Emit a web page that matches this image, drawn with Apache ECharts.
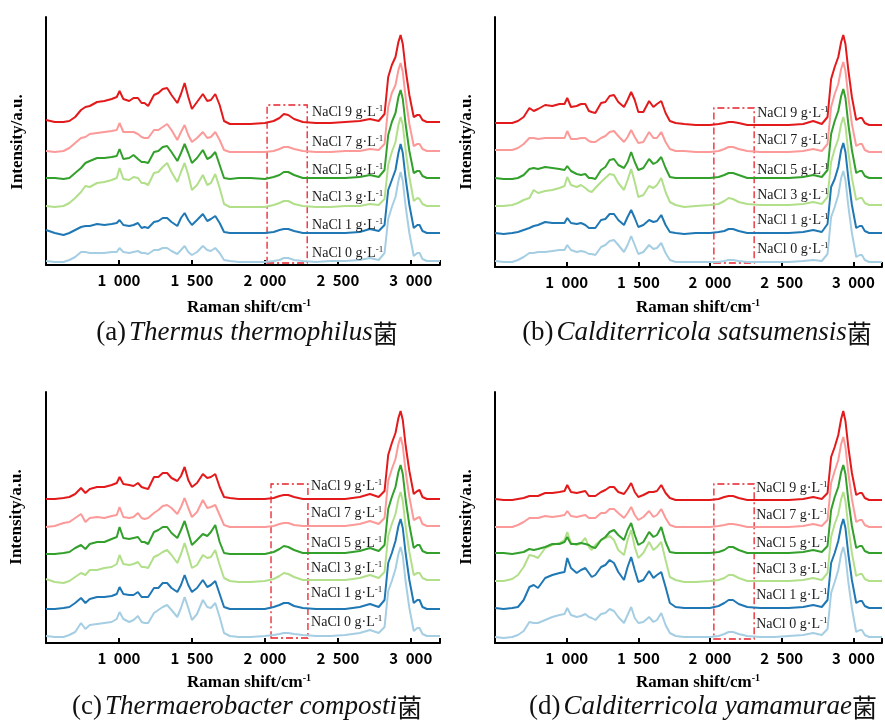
<!DOCTYPE html>
<html>
<head>
<meta charset="utf-8">
<script src="https://cdn.jsdelivr.net/npm/echarts@6/dist/echarts.min.js"></script>
<style>
html,body{margin:0;padding:0;background:#fff;}
#chart{width:885px;height:720px;}
</style>
</head>
<body>
<div id="chart"></div>
<script>
// Raman shift grid (cm-1)
const WAVENUMBER = [500,560,620,660,700,740,770,800,850,900,950,985,1004,1030,1070,1100,1130,1155,1175,1200,1240,1270,1300,1330,1360,1400,1425,1450,1475,1500,1535,1575,1605,1630,1660,1690,1720,1760,1820,
  1900,2000,2060,2100,2130,2160,2200,2260,2350,2450,2550,2650,2720,2780,2820,2845,2870,2895,2915,2930,2945,2965,2990,3020,3045,3060,3080,3110,3150,3200];
const X_TICKS = [1000,1500,2000,2500,3000];
const LEVELS = ['0','1','3','5','7','9'];

// (a) Thermus thermophilus (stacked intensity, a.u.)
const A_NaCl0 = [4,3,3,5,8,13,13,12,12,12,13,13,17,13,12,13,14,12,12,11,15,15,17,17,14,11,15,19,13,10,13,19,15,14,17,12,5,4,3, 3,3,4,5,7,7,5,4,3,4,4,5,7,5,12,46,58,68,84,93,84,58,32,9,12,12,6,4,4,4];
const A_NaCl1 = [35,32,30,32,35,38,39,39,41,40,41,42,45,40,39,40,42,37,38,37,43,44,47,47,43,39,47,52,45,40,45,51,44,46,49,42,33,32,32, 32,32,33,35,36,36,34,32,32,32,32,33,36,34,40,75,85,95,112,121,112,86,60,37,40,40,34,32,32,32];
const A_NaCl3 = [59,58,59,62,67,73,79,78,82,83,85,87,97,86,85,88,87,82,82,80,92,93,98,102,93,83,93,102,90,75,80,90,80,82,91,77,61,58,58, 58,58,60,62,64,64,61,59,58,58,59,59,61,60,66,100,113,123,140,148,140,114,88,64,67,66,61,59,59,59];
const A_NaCl5 = [87,87,86,87,92,97,102,104,107,107,108,109,116,106,107,110,106,103,103,102,113,114,118,119,113,104,112,121,112,102,107,115,106,108,113,100,87,86,87, 87,86,88,90,93,93,90,87,87,87,87,88,90,88,95,130,143,152,168,175,166,140,114,92,94,94,89,87,87,87];
const A_NaCl7 = [114,113,114,117,122,127,128,131,132,133,134,135,142,133,133,133,131,128,127,127,135,135,138,141,135,125,133,140,130,123,127,133,127,128,133,125,115,113,113, 113,113,114,116,118,118,116,114,113,113,114,114,116,115,121,158,172,180,195,202,193,167,141,119,121,121,116,114,114,114];
const A_NaCl9 = [145,143,143,144,148,155,158,159,163,164,166,168,174,166,164,167,167,162,162,159,170,172,176,177,170,162,171,182,168,156,163,171,164,165,171,160,144,141,141, 141,142,144,147,151,150,146,143,142,142,143,144,146,144,151,188,200,208,223,230,221,195,170,148,150,150,145,143,143,143];

// (b) Calditerricola satsumensis
const B_NaCl0 = [6,5,5,7,10,14,14,15,15,16,17,17,22,17,15,16,15,13,13,12,20,22,26,27,22,15,22,31,22,13,15,22,18,19,24,14,7,5,5, 5,5,5,6,7,7,6,5,5,5,5,6,7,6,13,50,60,72,89,96,87,61,34,10,12,12,7,5,5,5];
const B_NaCl1 = [34,33,34,35,37,39,41,42,45,44,44,44,49,44,43,44,42,39,39,39,47,48,53,53,47,42,50,57,49,40,42,47,45,46,52,42,35,34,33, 34,34,35,36,38,38,36,34,34,34,34,35,37,35,43,80,88,100,117,124,115,89,62,39,41,41,36,34,34,34];
const B_NaCl3 = [61,61,62,64,67,69,77,74,76,77,79,81,90,82,80,82,79,76,75,79,85,89,93,92,84,77,87,98,85,70,72,81,79,82,89,75,65,62,60, 61,62,63,66,69,68,65,63,62,62,62,63,65,63,70,105,118,128,143,150,141,115,89,67,69,69,64,62,62,62];
const B_NaCl5 = [89,88,88,89,92,98,99,98,100,99,98,97,101,96,93,92,93,89,89,88,97,100,107,108,102,99,105,115,105,97,99,108,103,105,110,99,90,89,89, 89,89,90,92,94,94,92,89,89,89,89,90,92,90,97,133,146,156,171,178,169,143,117,94,96,96,91,89,89,89];
const B_NaCl7 = [117,117,117,119,123,129,129,128,129,129,129,129,136,128,128,129,129,126,125,125,129,131,135,136,131,125,130,137,130,124,125,135,129,129,135,125,118,116,116, 115,115,116,118,120,120,118,116,115,115,115,116,118,116,123,160,173,183,198,205,196,170,143,121,123,123,117,115,115,115];
const B_NaCl9 = [144,144,144,146,150,159,156,158,162,161,163,163,169,160,161,163,163,156,155,154,164,165,171,172,165,160,167,175,167,155,155,166,160,163,166,154,146,144,143, 142,142,143,144,145,145,144,142,142,142,142,143,146,143,150,188,200,210,225,232,223,197,170,147,149,149,144,142,142,142];

// (c) Thermaerobacter composti
const C_NaCl0 = [7,6,6,8,11,20,14,18,19,20,21,24,31,24,21,23,27,21,20,20,30,33,36,38,33,26,35,46,35,23,29,43,36,35,40,26,10,7,6, 6,7,8,9,10,10,9,8,7,7,8,10,13,10,16,52,62,74,89,96,87,61,35,12,15,15,9,7,7,7];
const C_NaCl1 = [34,34,35,36,40,45,40,44,46,46,47,49,56,49,48,48,51,46,46,46,55,55,60,60,55,51,58,68,58,51,55,63,56,58,62,49,36,34,34, 34,34,36,38,40,40,37,35,34,34,34,36,39,36,43,80,90,102,117,124,115,89,63,40,43,43,36,34,34,34];
const C_NaCl3 = [64,61,60,62,66,70,68,73,73,75,76,79,88,79,78,79,81,76,76,75,86,88,91,93,88,80,89,100,88,75,78,88,85,86,93,78,65,62,61, 61,62,64,67,70,69,66,63,63,63,63,65,68,65,71,107,119,129,144,151,142,116,91,68,70,70,65,63,63,63];
const C_NaCl5 = [89,89,90,91,95,98,94,99,101,101,104,106,116,105,104,105,106,101,101,99,111,113,116,116,110,105,113,122,110,98,103,109,107,111,118,101,90,89,89, 89,89,91,94,97,96,93,90,90,90,90,92,95,92,98,134,146,156,171,178,169,143,118,95,98,98,92,90,90,90];
const C_NaCl7 = [116,117,120,121,125,129,121,125,126,125,127,128,136,126,125,126,130,125,124,125,130,133,137,138,135,129,136,145,135,126,131,143,135,136,138,128,118,116,116, 116,116,117,119,120,120,118,117,117,117,117,119,122,119,125,162,174,184,199,206,197,171,146,123,125,126,119,117,117,117];
const C_NaCl9 = [144,144,145,146,149,155,150,154,156,156,158,160,166,159,158,157,160,156,155,154,166,166,170,170,165,162,167,176,163,156,160,169,165,166,169,156,146,145,144, 144,144,145,147,148,148,146,144,144,144,144,146,149,146,152,188,200,210,225,232,223,197,172,149,152,153,146,144,144,144];

// (d) Calditerricola yamamurae
const D_NaCl0 = [6,5,6,8,12,21,20,20,23,26,28,29,35,28,26,27,29,26,25,23,29,30,34,32,26,20,28,36,25,20,21,26,21,23,30,18,10,7,6, 6,6,7,9,11,11,9,7,6,6,7,8,10,8,14,50,61,73,89,96,87,61,35,11,13,13,8,6,6,6];
const D_NaCl1 = [35,34,35,36,43,56,58,55,65,68,70,71,85,75,70,73,75,70,66,68,76,78,83,80,71,63,76,86,73,61,63,72,65,68,71,56,40,36,35, 35,35,37,40,43,43,39,36,35,35,35,36,38,36,43,80,90,102,117,124,115,89,63,40,42,42,37,35,35,35];
const D_NaCl3 = [62,62,64,68,76,88,87,85,95,98,100,103,111,100,98,100,105,96,93,98,103,105,107,103,93,88,103,113,96,85,90,101,93,96,101,83,66,63,61, 61,62,63,65,68,68,65,62,62,62,62,63,65,63,70,106,119,129,144,151,142,116,90,67,69,69,64,62,62,62];
const D_NaCl5 = [90,90,89,90,91,94,93,94,96,99,99,101,106,99,99,100,99,98,96,95,103,106,111,113,108,103,113,120,108,98,101,111,106,108,116,101,91,90,90, 90,90,91,93,96,96,93,90,90,90,90,91,93,91,97,133,146,156,171,178,169,143,117,95,97,97,92,90,90,90];
const D_NaCl7 = [116,116,116,118,121,125,125,125,127,126,127,128,132,127,126,127,128,125,125,125,130,130,134,134,130,125,130,136,128,123,126,132,126,128,134,125,118,116,116, 116,116,117,118,119,119,118,116,116,116,116,117,119,117,123,160,172,183,199,206,196,170,144,121,123,123,118,116,116,116];
const D_NaCl9 = [144,143,143,144,145,147,147,147,150,150,151,152,158,151,150,151,152,147,147,147,151,153,156,156,151,149,154,160,151,146,148,151,151,152,158,150,145,143,143, 143,143,144,146,147,147,145,143,143,143,143,144,146,144,150,186,196,208,224,232,222,196,170,148,150,150,145,143,143,143];

// highlighted region [x0, x1, y0, y1] and label anchors (data units)
const BOX_A = [2015, 2290, 2, 160];
const BOX_B = [2027, 2308, 4, 159];
const BOX_C = [2042, 2295, 5, 159];
const BOX_D = [2027, 2308, 4, 159];
const LABEL_X = [2323, 2329, 2316, 2322];
const LABEL_Y_A = [12, 40, 68, 95, 123, 153];
const LABEL_Y_B = [18, 47, 72, 97, 127, 154];
const LABEL_Y_C = [21, 50, 75, 100, 130, 157];
const LABEL_Y_D = [19, 48, 74, 100, 128, 155];

const CAPTION_TAG = ['(a)', '(b)', '(c)', '(d)'];
const CAPTION_NAME = ['Thermus thermophilus', 'Calditerricola satsumensis', 'Thermaerobacter composti', 'Calditerricola yamamurae'];

// ---- layout / style ----
const COLORS = ['#a6cee3', '#1f78b4', '#b2df8a', '#33a02c', '#fb9a99', '#e31a1c'];
const PANELS = [
  {series:[A_NaCl0,A_NaCl1,A_NaCl3,A_NaCl5,A_NaCl7,A_NaCl9], box:BOX_A, labelY:LABEL_Y_A, labelX:LABEL_X[0],
   grid:{left:46, top:17, width:394, height:248}, ymax:248, yname:[18,142], xname:[249,308], cap:[247,333]},
  {series:[B_NaCl0,B_NaCl1,B_NaCl3,B_NaCl5,B_NaCl7,B_NaCl9], box:BOX_B, labelY:LABEL_Y_B, labelX:LABEL_X[1],
   grid:{left:495, top:17, width:394, height:250}, ymax:250, yname:[467,142], xname:[698,308], cap:[697,333]},
  {series:[C_NaCl0,C_NaCl1,C_NaCl3,C_NaCl5,C_NaCl7,C_NaCl9], box:BOX_C, labelY:LABEL_Y_C, labelX:LABEL_X[2],
   grid:{left:46, top:392, width:394, height:251}, ymax:251, yname:[17,517], xname:[249,683], cap:[247,707]},
  {series:[D_NaCl0,D_NaCl1,D_NaCl3,D_NaCl5,D_NaCl7,D_NaCl9], box:BOX_D, labelY:LABEL_Y_D, labelX:LABEL_X[3],
   grid:{left:495, top:392, width:394, height:251}, ymax:251, yname:[467,517], xname:[698,683], cap:[703,707]}
];

const SERIF = '"Liberation Serif","Times New Roman",serif';
const grids = [], xAxes = [], yAxes = [], series = [], graphics = [];

PANELS.forEach((p, pi) => {
  grids.push(Object.assign({containLabel:false}, p.grid));
  xAxes.push({
    type:'value', gridIndex:pi, min:500, max:3200, interval:500,
    axisLine:{show:true, onZero:false, lineStyle:{color:'#000', width:2}},
    axisTick:{show:true, inside:true, length:5, lineStyle:{color:'#000', width:2}},
    axisLabel:{show:true, margin:8, color:'#000', fontSize:15, fontWeight:'bold',
      fontFamily:'"Noto Sans CJK JP","Noto Sans",sans-serif',
      formatter: v => X_TICKS.indexOf(v) < 0 ? '' : (Math.floor(v/1000) + '\u2002' + String(v%1000).padStart(3,'0'))},
    splitLine:{show:false}
  });
  yAxes.push({
    type:'value', gridIndex:pi, min:0, max:p.ymax,
    axisLine:{show:true, onZero:false, lineStyle:{color:'#000', width:2}},
    axisTick:{show:false}, axisLabel:{show:false}, splitLine:{show:false}
  });
  p.series.forEach((arr, k) => {
    const s = {
      type:'line', name:'NaCl ' + LEVELS[k] + ' g·L-1', xAxisIndex:pi, yAxisIndex:pi,
      data: WAVENUMBER.map((w, i) => [w, arr[i]]),
      symbol:'none', showSymbol:false, silent:true, z:2 + k,
      lineStyle:{color:COLORS[k], width:2}, itemStyle:{color:COLORS[k]},
      markPoint:{
        silent:true, symbol:'rect', symbolSize:0.1, itemStyle:{color:'rgba(0,0,0,0)'},
        label:{show:true, position:'right', distance:0,
          formatter:'{a|NaCl ' + LEVELS[k] + ' g·L}{s|-1}',
          rich:{
            a:{fontFamily:SERIF, fontSize:14, color:'#1a1a1a', lineHeight:16},
            s:{fontFamily:SERIF, fontSize:9, color:'#1a1a1a', lineHeight:9, verticalAlign:'top'}
          }},
        data:[{coord:[p.labelX, p.labelY[k]]}]
      }
    };
    if (k === 5) {
      s.markArea = {
        silent:true,
        itemStyle:{color:'rgba(0,0,0,0)', borderColor:'#e8202a', borderWidth:1.3, borderType:[7,3,2,3]},
        label:{show:false},
        data:[[{coord:[p.box[0], p.box[2]]}, {coord:[p.box[1], p.box[3]]}]]
      };
    }
    series.push(s);
  });
  graphics.push({
    type:'text', x:p.yname[0], y:p.yname[1], rotation:Math.PI/2,
    style:{text:'Intensity/a.u.', fontFamily:SERIF, fontWeight:'bold', fontSize:17, fill:'#000', align:'center', verticalAlign:'middle'}
  });
  graphics.push({
    type:'text', x:p.xname[0], y:p.xname[1],
    style:{text:'{m|Raman shift/cm}{s|-1}', align:'center', verticalAlign:'middle',
      rich:{m:{fontFamily:SERIF, fontWeight:'bold', fontSize:17, fill:'#000', lineHeight:20},
            s:{fontFamily:SERIF, fontWeight:'bold', fontSize:10, fill:'#000', lineHeight:10, verticalAlign:'top'}}}
  });
  graphics.push({
    type:'text', x:p.cap[0], y:p.cap[1],
    style:{text:'{t|' + CAPTION_TAG[pi] + '}{i|' + CAPTION_NAME[pi] + '}{c|菌}', align:'center', verticalAlign:'middle',
      rich:{t:{fontFamily:SERIF, fontSize:27, fill:'#111', padding:[0,3,0,0]},
            i:{fontFamily:SERIF, fontStyle:'italic', fontSize:27, fill:'#111'},
            c:{fontFamily:'"Noto Sans CJK SC",sans-serif', fontSize:25, fill:'#111'}}}
  });
});

const chart = echarts.init(document.getElementById('chart'), null, {renderer:'canvas'});
chart.setOption({
  backgroundColor:'#fff',
  animation:false,
  grid:grids, xAxis:xAxes, yAxis:yAxes, series:series, graphic:graphics
});
</script>
</body>
</html>
